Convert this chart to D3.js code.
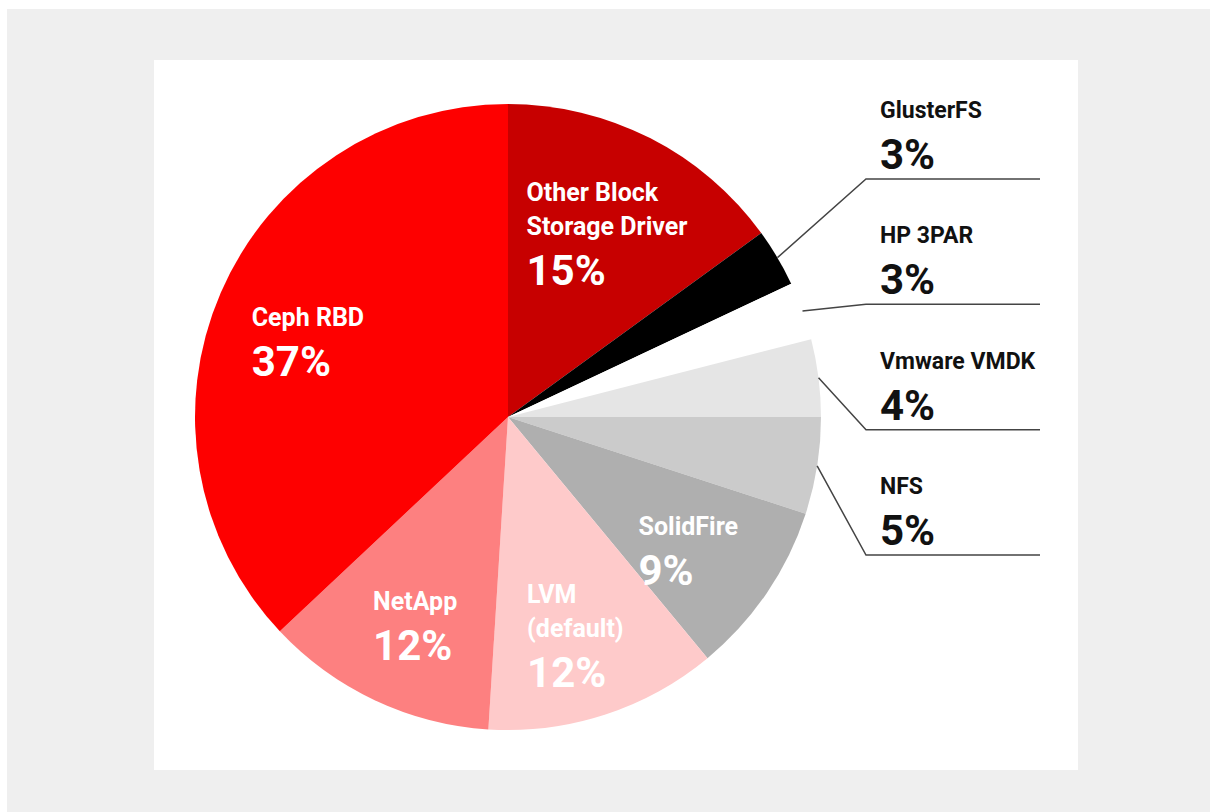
<!DOCTYPE html>
<html>
<head>
<meta charset="utf-8">
<script src="https://cdn.jsdelivr.net/npm/d3@7"></script>
<style>
  body { margin: 0; background: #fff; }
  text { font-family: Roboto, "Liberation Sans", sans-serif; font-weight: 700; }
</style>
</head>
<body>
<div id="chart"></div>
<script>
// slices, clockwise from 12 o'clock
const names = ["Other Block\nStorage Driver", "GlusterFS", "HP 3PAR", "Vmware VMDK", "NFS",
  "SolidFire", "LVM\n(default)", "NetApp", "Ceph RBD"];
const shares = [15, 3, 3, 4, 5, 9, 12, 12, 37];
const fills = ["#c70000", "#000000", "#ffffff", "#e5e5e5", "#cbcbcb",
  "#afafaf", "#fecaca", "#fd8080", "#fe0000"];
// the small ones get a label outside, with a leader line
const outside = ["GlusterFS", "HP 3PAR", "Vmware VMDK", "NFS"];

const width = 1210, height = 812;
const cx = 508, cy = 417, radius = 313;

const data = names.map((n, i) => ({ name: n, value: shares[i] }));

const svg = d3.select("#chart")
  .append("svg")
  .attr("width", width)
  .attr("height", height);

svg.append("rect")
  .attr("x", 7).attr("y", 9)
  .attr("width", width - 7).attr("height", height - 9)
  .attr("fill", "#efefef");
svg.append("rect")
  .attr("x", 154).attr("y", 60)
  .attr("width", 924).attr("height", 710)
  .attr("fill", "#fff");

const color = d3.scaleOrdinal().domain(names).range(fills);

const pie = d3.pie().sort(null).value(d => d.value);
const arcs = pie(data);

const arc = d3.arc().innerRadius(0).outerRadius(radius);
const labelArc = d3.arc().innerRadius(218).outerRadius(218);
const edgeArc = d3.arc().innerRadius(radius).outerRadius(radius);

const g = svg.append("g").attr("transform", `translate(${cx},${cy})`);

g.selectAll("path")
  .data(arcs)
  .join("path")
    .attr("d", arc)
    .attr("fill", d => color(d.data.name));

// inside labels
const inner = g.selectAll("g.inner")
  .data(arcs.filter(d => !outside.includes(d.data.name)))
  .join("g")
    .attr("class", "inner");

inner.each(function(d) {
  const lab = d3.select(this);
  const lines = d.data.name.split("\n");
  lines.forEach((t, i) => {
    lab.append("text")
      .attr("y", i * 34)
      .attr("font-size", 25)
      .attr("fill", "#fff")
      .text(t);
  });
  lab.append("text")
    .attr("y", (lines.length - 1) * 34 + 50)
    .attr("font-size", 42)
    .attr("fill", "#fff")
    .text(d.data.value + "%");
  const bb = this.getBBox();
  const [x, y] = labelArc.centroid(d);
  lab.attr("transform", `translate(${x - bb.x - bb.width / 2},${y + 14 - bb.y - bb.height / 2})`);
});

// outside labels
const row = d3.scalePoint().domain(outside).range([179, 555]);
const elbowX = 866 - cx, endX = 1040 - cx, textX = 880 - cx;

const outer = g.selectAll("g.outer")
  .data(arcs.filter(d => outside.includes(d.data.name)))
  .join("g")
    .attr("class", "outer");

outer.append("polyline")
  .attr("fill", "none")
  .attr("stroke", "#444")
  .attr("stroke-width", 1.5)
  .attr("points", d => {
    const [x0, y0] = edgeArc.centroid(d);
    const y1 = row(d.data.name) - cy;
    return [[x0, y0], [elbowX, y1], [endX, y1]].join(" ");
  });

outer.append("text")
  .attr("x", textX)
  .attr("y", d => row(d.data.name) - cy - 61)
  .attr("font-size", 23)
  .attr("fill", "#111")
  .text(d => d.data.name);

outer.append("text")
  .attr("x", textX)
  .attr("y", d => row(d.data.name) - cy - 10)
  .attr("font-size", 42)
  .attr("fill", "#111")
  .text(d => d.data.value + "%");
</script>
</body>
</html>
